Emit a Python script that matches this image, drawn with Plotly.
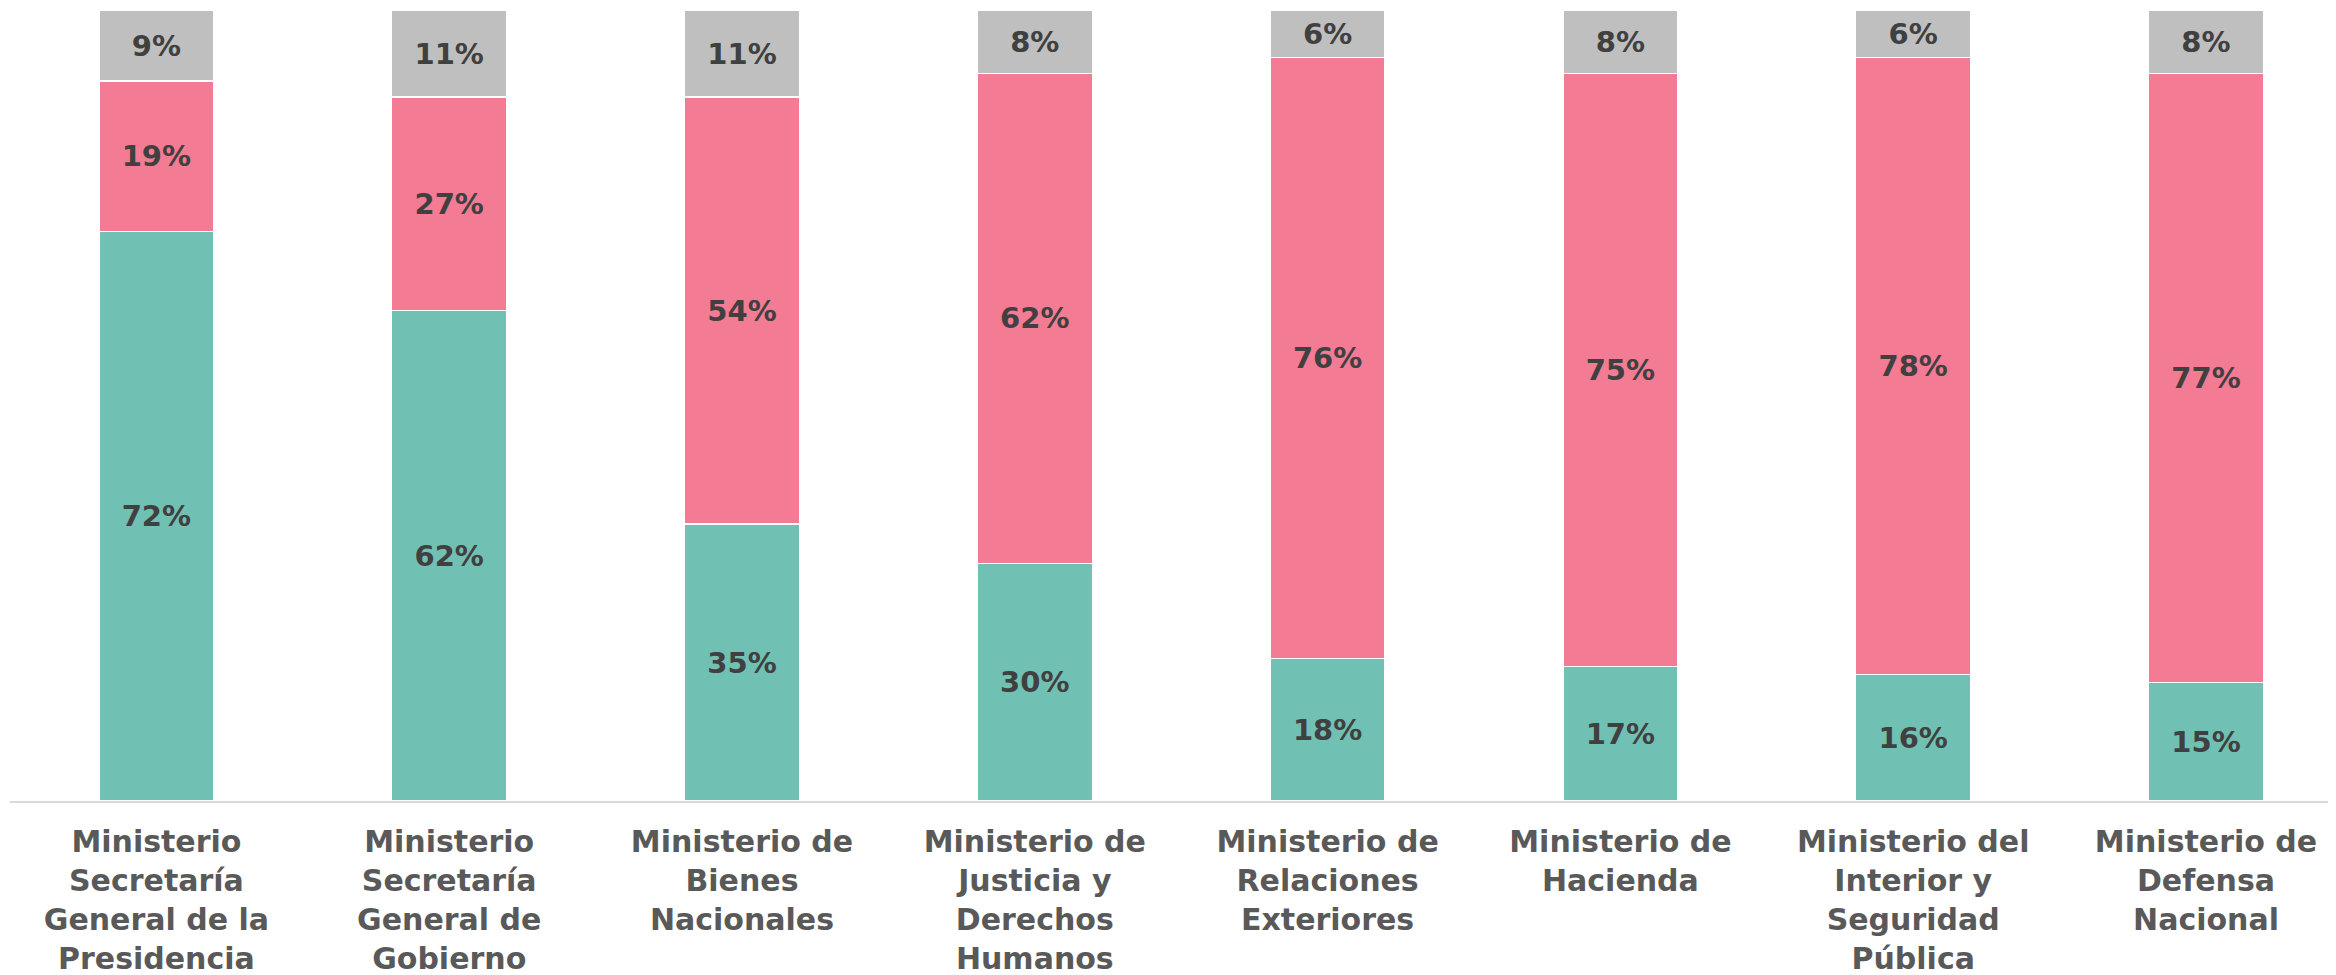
import plotly.graph_objects as go

categories = [
    "Ministerio<br>Secretaría<br>General de la<br>Presidencia",
    "Ministerio<br>Secretaría<br>General de<br>Gobierno",
    "Ministerio de<br>Bienes<br>Nacionales",
    "Ministerio de<br>Justicia y<br>Derechos<br>Humanos",
    "Ministerio de<br>Relaciones<br>Exteriores",
    "Ministerio de<br>Hacienda",
    "Ministerio del<br>Interior y<br>Seguridad<br>Pública",
    "Ministerio de<br>Defensa<br>Nacional",
]
teal_vals = [72, 62, 35, 30, 18, 17, 16, 15]
pink_vals = [19, 27, 54, 62, 76, 75, 78, 77]
gray_vals = [9, 11, 11, 8, 6, 8, 6, 8]

FONT = "DejaVu Sans"
series = [
    (teal_vals, "#70C1B3"),
    (pink_vals, "#F47B94"),
    (gray_vals, "#BFBFBF"),
]

fig = go.Figure()
for vals, color in series:
    fig.add_trace(go.Bar(
        x=list(range(len(categories))),
        y=vals,
        marker=dict(color=color, line=dict(color="white", width=1.5)),
        text=[f"<b>{v}%</b>" for v in vals],
        textposition="inside",
        insidetextanchor="middle",
        textangle=0,
        constraintext="none",
        textfont=dict(family=FONT, size=29, color="#404040"),
        showlegend=False,
        hoverinfo="skip",
    ))

fig.update_layout(
    barmode="stack",
    bargap=0.607,
    width=2328,
    height=967,
    autosize=False,
    margin=dict(l=2, r=0, t=2, b=174, pad=0),
    plot_bgcolor="white",
    paper_bgcolor="white",
)
fig.update_xaxes(
    tickmode="array",
    tickvals=list(range(len(categories))),
    ticktext=[f"<b>{c}</b>".replace("<br>", "</b><br><b>") for c in categories],
    range=[-0.5, 7.444],
    showline=True,
    linecolor="#D9D9D9",
    linewidth=2,
    showgrid=False,
    zeroline=False,
    ticks="",
    ticklabelstandoff=13,
    tickangle=0,
    tickfont=dict(family=FONT, size=30, color="#595959"),
)
fig.update_yaxes(
    range=[0, 100],
    visible=False,
    showgrid=False,
    zeroline=False,
)

fig.write_html("out.html")
